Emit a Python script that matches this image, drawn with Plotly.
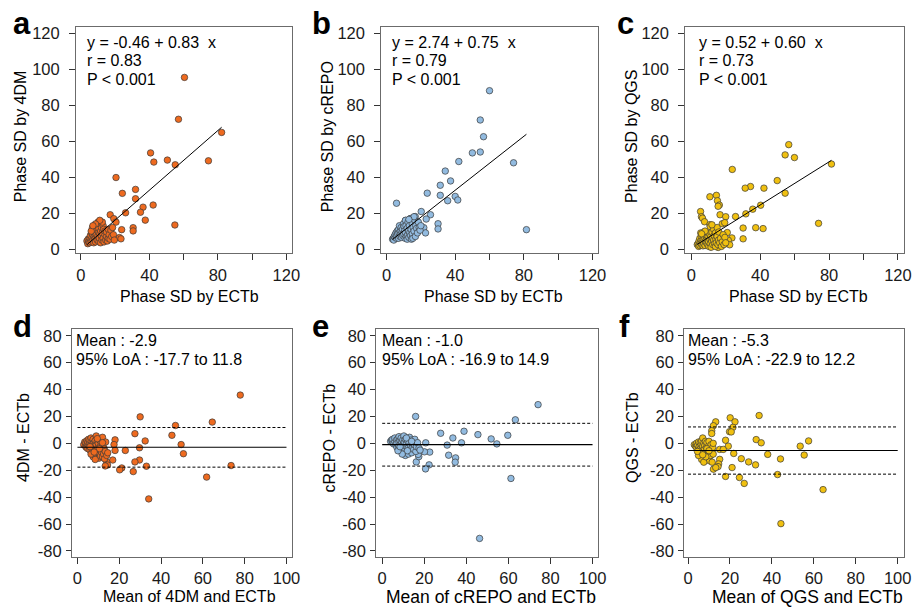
import plotly.graph_objects as go

W, H = 921, 610

# ---------------- data ----------------
# Panel a: ECTb vs 4DM
a_x_out = [60.5, 57, 82.2, 40.7, 42.6, 50.5, 55.1, 74.5, 20.5, 31.9, 24.2, 31.9, 36.3, 42.2, 26.1, 34.8, 37.6,
           17.1, 19.2, 20.5, 54.9, 23.8, 30.5, 30.5, 22.5, 23.4]
a_y_out = [95.5, 72.2, 64.9, 53.5, 48.4, 49.5, 46.9, 49.1, 39.8, 33.2, 31, 28, 23.3, 24.5, 20.2, 20.5, 16.1,
           19.1, 16.9, 15, 13.4, 10.8, 11.9, 10.1, 6.4, 5.7]
a_x_cl = [3.5, 4, 4.2, 4.5, 5, 5, 5.5, 5.8, 6, 6.2, 6.5, 6.8, 7, 7, 7.3, 7.5, 7.8, 8, 8, 8.3, 8.5, 8.8, 9, 9,
          9.3, 9.5, 9.8, 10, 10, 10.2, 10.5, 10.5, 10.8, 11, 11.2, 11.5, 11.5, 12, 12, 12.3, 12.5, 13, 13, 13.3,
          13.5, 14, 14, 14.5, 15, 15, 15.5, 16, 16, 16.5, 17, 17.5, 18, 18.5, 19, 19.5, 12.5, 11, 8.5, 6, 7]
a_y_cl = [4.5, 3, 5.5, 4, 6, 3.5, 7.5, 5, 4, 9, 6.5, 12, 5, 8, 10, 3.5, 7, 11, 5.5, 9, 4, 6.5, 12.5, 8,
          10.5, 5, 7, 15, 13, 9.5, 4, 11.5, 6, 8.5, 14, 3.5, 10, 12, 7, 5, 9, 13, 6, 11,
          4, 8, 10, 5, 7, 9.5, 4.5, 6, 11, 8, 5.5, 10.5, 7, 12, 8, 5, 15, 16, 14, 10, 13]

# Panel b: ECTb vs cREPO
b_x_out = [60, 54.6, 56.5, 50, 54.6, 42.1, 74, 34.2, 37.3, 31.3, 31.3, 23.7, 40, 41.5, 35.6, 5.8, 20.2, 25.6,
           23.1, 30, 30, 81.5, 21.7, 22.7, 13.8, 16.7, 11]
b_y_out = [88.1, 71.8, 62.5, 53.5, 54, 48.7, 48, 43.4, 37.9, 35.5, 29.9, 31.1, 29.3, 27.3, 26.9, 25.5, 20.9, 19.1,
           16.7, 14.1, 11.2, 10.8, 11.9, 9, 16.9, 18.1, 15.9]
b_x_cl = [3.5, 4, 4.2, 4.5, 5, 5, 5.5, 5.8, 6, 6.2, 6.5, 7, 7, 7.3, 7.5, 7.8, 8, 8.3, 8.5, 8.8, 9, 9.3, 9.5, 9.8,
          10, 10.2, 10.5, 10.8, 11, 11, 11.3, 11.5, 12, 12, 12.3, 12.5, 12.8, 13, 13.3, 13.5, 14, 14, 14.3, 14.5,
          15, 15, 15.3, 15.5, 16, 16.5, 16.8, 17, 17.5, 18, 18.5, 19, 19.5, 20, 16, 13]
b_y_cl = [5.5, 6, 5, 7, 6.5, 8, 9, 6, 7.5, 10, 8.5, 6, 11, 9, 13, 7, 10, 8, 12, 6.5, 9.5, 11, 7.5, 14,
          8.5, 12.5, 10, 6, 16, 9, 13, 7, 11.5, 5.5, 8, 15, 10, 6.5, 13, 9, 17, 7.5, 11, 5.5,
          14, 8.5, 6, 12, 10, 16, 7, 13, 11.5, 9, 15, 12, 10.5, 13, 18, 16.5]

# Panel c: ECTb vs QGS
c_x_out = [56.6, 54.5, 59.9, 81.4, 23.8, 49.9, 34.4, 31.3, 42.2, 54.5, 14.6, 10.8, 15.2, 16.3, 15.6, 40.3, 35.7,
           31.7, 16.7, 25.7, 20, 5.4, 5.9, 6.5, 7.7, 73.9, 10.8, 18, 19.4, 30.1, 37.4, 41.7, 30.1, 20.9, 23.6,
           21.5, 22.3, 15.6, 11.1]
c_y_out = [58.1, 52.4, 50.9, 47.3, 44.3, 38.1, 34.8, 33.9, 33.9, 31.1, 29.9, 29.1, 26.9, 24.5, 23.8, 24.4, 22.2,
           19.6, 19.1, 18.1, 18, 20.9, 18, 17.2, 15.2, 14.3, 13.6, 14.1, 14.7, 11.7, 11.9, 11.4, 5.7, 9.2, 6.2,
           4.9, 2.4, 0.9, 1.3]
c_x_cl = [3.5, 4, 4.3, 4.5, 5, 5, 5.3, 5.5, 5.8, 6, 6.2, 6.5, 6.8, 7, 7, 7.3, 7.5, 7.8, 8, 8.2, 8.5, 8.8, 9, 9.2,
          9.5, 9.8, 10, 10.2, 10.5, 10.8, 11, 11, 11.3, 11.5, 11.8, 12, 12.3, 12.5, 13, 13, 13.3, 13.5, 14, 14,
          14.3, 14.5, 15, 15, 15.5, 15.8, 16, 16.5, 17, 17.5, 18, 18.5, 19, 19.5, 20, 12, 8, 6]
c_y_cl = [2.5, 3, 1.5, 4.5, 2, 6, 3.5, 9, 5, 2.5, 7, 4, 1.8, 8, 5.5, 3, 9.5, 6, 2, 4.5, 7.5, 3.5, 9, 5.5,
          2.5, 7, 4, 1.5, 8.5, 5.5, 3, 12.5, 7, 1, 4.5, 9.5, 6, 2.5, 11, 5, 7.5, 3, 9, 1.5,
          5.5, 3.5, 7, 12, 2.5, 5, 9.5, 3.5, 6, 1.5, 4, 8, 2.5, 6.5, 3.5, 13.5, 10, 8.5]

# Panel d: Bland-Altman 4DM - ECTb
d_x_out = [77.9, 30, 64.5, 46.9, 45.2, 27.5, 32.4, 49.6, 29.7, 50.7, 22.9, 18, 17.5, 18, 16.9, 29.7, 27.5, 14,
           14.4, 13.3, 33, 73.5, 21.2, 20.2, 26.7, 61.8, 34.1]
d_y_out = [35.9, 19.7, 15.8, 13.3, 6, 7.2, 1.8, -0.9, -3.3, -7.7, -5.3, 2.6, -0.9, -5.3, -12.4, -12.4, -13.8, -13.8,
           -16.1, -16.8, -17, -16.5, -18.3, -19.7, -21, -25.1, -41.3]
d_x_cl = [3, 3.5, 3.8, 4, 4.2, 4.5, 4.8, 5, 5, 5.3, 5.5, 5.8, 6, 6, 6.3, 6.5, 6.8, 7, 7, 7.3, 7.5, 7.8, 8, 8,
          8.3, 8.5, 8.8, 9, 9, 9.3, 9.5, 9.8, 10, 10, 10.3, 10.5, 10.8, 11, 11, 11.3, 11.5, 11.8, 12, 12, 12.3,
          12.5, 12.8, 13, 13.3, 13.5, 14, 14.5, 7.5, 8.5, 6.5, 9.5, 10.5, 12, 8, 6]
d_y_cl = [-1, 1, -2, 0.5, -3, 2, -1, 1, -4, 3, -2, 0, -5, 2.5, -1.5, 4, -3, 1, -6, -0.5, 3, -4, -8, 0.5,
          -2, 2, -5.5, 5.5, -1, -9, 1.5, -3.5, -7, 0, -11, 2.5, -5, -2, -9.5, 1, -6.5, -3, 4.5, -10, -1,
          -8, -4, -11.5, -6, 1, -9, -7, -10, -12, -8, 3.5, -4, 0.5, -6.5, -2.5]
d_stats = [-2.9, -17.7, 11.8]   # mean, lower LoA, upper LoA

# Panel e: Bland-Altman cREPO - ECTb
e_x_out = [74.1, 15.9, 63.3, 27.8, 38.9, 45.5, 59.7, 51.8, 33.6, 37.7, 54.5, 30.9, 31.6, 34.9, 34.7, 16.2, 22.3,
           20.6, 61.2, 46.3, 20.7, 22.6, 20.1, 17.4, 17.1]
e_y_out = [28.8, 20, 17.5, 7.5, 9, 6.5, 6, 3.3, 4, 0.4, -0.4, -1.3, -8.8, -10.8, -14, -13.8, -16,
           -19, -26.1, -70.7, 0.4, -6.5, -6.3, -9.9, -8.2]
e_x_cl = [4, 4.5, 5, 5, 5.5, 6, 6, 6.5, 6.8, 7, 7, 7.5, 7.8, 8, 8, 8.3, 8.5, 8.8, 9, 9, 9.3, 9.5, 9.8, 10,
          10, 10.3, 10.5, 10.8, 11, 11, 11.3, 11.5, 11.8, 12, 12.3, 12.5, 12.8, 13, 13, 13.5, 13.8, 14,
          14.3, 14.5, 15, 15.3, 15.5, 16, 16.3, 16.8, 17.5, 18, 12, 9.5, 7.5, 11.5, 14, 8.5]
e_y_cl = [1.5, 2.5, 0.5, 3, -0.5, 1.5, 4, -1, 2.5, 0, -3, 3.5, -2, 1, 5, -4, 2, -1, 4, -6, 0.5, -3, 2.5, -7.5,
          -1, 5.5, 1, -4.5, 3, -9, -2, 0, -6, 2, -3.5, -8, 0.5, 4.5, -5, -1.5, 2.5, -7,
          -3, 0, -4.5, -1, 3, -6, -2.5, 0.5, -3.5, -5, -5.5, -8, -5.5, 4, 1.5, -2.5]
e_stats = [-1.0, -16.9, 14.9]

# Panel f: Bland-Altman QGS - ECTb
f_x_out = [33.9, 20.1, 22.4, 13.2, 12.1, 21.4, 11.3, 19.8, 11.3, 20.6, 32.5, 34.9, 17.9, 57.5, 53.5, 19.2, 55.4,
           38, 21.8, 15.1, 16.8, 44.1, 25.4, 15.1, 28.9, 32.2, 14.6, 14.3, 21, 12.1, 17.9, 24.5, 42.7, 26.8,
           64.4, 44.3, 13.2]
f_y_out = [20.7, 19, 16, 16, 13.1, 11.9, 9.4, 8.7, 7.3, 8.5, 2.8, 0.4, 2.3, 1.8, -2.1, -2.1, -8.7,
           -8.2, -7.5, -4.5, -4.5, -11.6, -11.4, -11.9, -13.8, -16, -15.3, -17.3, -18, -19.2, -24.6, -25.4, -23.2,
           -29.8, -34.4, -59.7, -18]
f_x_cl = [3, 3.5, 4, 4, 4.5, 5, 5, 5.3, 5.5, 5.8, 6, 6, 6.3, 6.5, 6.5, 6.8, 7, 7, 7.3, 7.5, 7.8, 8, 8, 8.3,
          8.5, 8.8, 9, 9, 9.3, 9.5, 9.8, 10, 10, 10.3, 10.5, 10.8, 11, 11.3, 11.5, 11.8, 12, 12,
          6.5, 7.5, 8.5, 5, 4.5, 9, 7, 10]
f_y_cl = [-1, -2, -3, 0, -1.5, -4, 1, -2.5, -6, 0.5, -3.5, -8, -1, -5, 2, -10, -2, 4, -6.5, 0, -4, -12, -1.5, 1.5,
          -7, -3, -9.5, 0.5, -5, -11.5, -2, -7, 1.5, -13, -4, -9, -1, -6, -14, -3, -8, 0,
          -12, -14, -10, -9, -6, -4, -8.5, -5.5]
f_stats = [-5.3, -22.9, 12.2]

# regression coefficients (intercept, slope)
reg_a = [-0.46, 0.83]
reg_b = [2.74, 0.75]
reg_c = [0.52, 0.60]

top_xticks = [0, 20, 40, 60, 80, 100, 120]
top_xlabels = ['0', '', '40', '', '80', '', '120']
top_yticks = [0, 20, 40, 60, 80, 100, 120]
bot_xticks = [0, 20, 40, 60, 80, 100]
bot_yticks = [-80, -60, -40, -20, 0, 20, 40, 60, 80]

# ---------------- styling / layout ----------------
FONT = "Liberation Sans, Arial, Helvetica, sans-serif"
ORANGE = '#EE6A1F'
BLUE = '#92BBE0'
YELLOW = '#F0C010'


def px(x):
    return x / W


def py(y):
    return 1 - y / H


fig = go.Figure()

top_y_dom = [py(253.3), py(24.7)]
bot_y_dom = [py(560), py(329.3)]

panels = [
    dict(xd=[75.7, 294], yd=top_y_dom, xr=[-2.9, 123.4], yr=[-2.4, 123.3],
         xt=top_xticks, xl=top_xlabels, yt=top_yticks, ylen=6, ystand=6),
    dict(xd=[384, 602.7], yd=top_y_dom, xr=[-3.1, 123.1], yr=[-2.4, 123.3],
         xt=top_xticks, xl=top_xlabels, yt=top_yticks, ylen=6, ystand=6),
    dict(xd=[691, 911.7], yd=top_y_dom, xr=[-3.5, 123.4], yr=[-2.4, 123.3],
         xt=top_xticks, xl=top_xlabels, yt=top_yticks, ylen=6, ystand=6),
    dict(xd=[71.7, 294], yd=bot_y_dom, xr=[-2.6, 102.7], yr=[-84.2, 85.4],
         xt=bot_xticks, xl=[str(v) for v in bot_xticks], yt=bot_yticks, ylen=5, ystand=1),
    dict(xd=[379, 602.7], yd=bot_y_dom, xr=[-2.8, 102.5], yr=[-84.2, 85.4],
         xt=bot_xticks, xl=[str(v) for v in bot_xticks], yt=bot_yticks, ylen=5, ystand=1),
    dict(xd=[690, 911.7], yd=bot_y_dom, xr=[-1.8, 102.9], yr=[-84.2, 85.4],
         xt=bot_xticks, xl=[str(v) for v in bot_xticks], yt=bot_yticks, ylen=5, ystand=1),
]

layout_axes = {}
for i, p in enumerate(panels):
    n = '' if i == 0 else str(i + 1)
    common = dict(showline=True, mirror=True, linecolor='#6b6b6b', linewidth=1, ticks='outside',
                  tickcolor='#333333', tickwidth=1, showgrid=False, zeroline=False, fixedrange=True,
                  tickfont=dict(family=FONT, size=16.5, color='#1a1a1a'), tickmode='array')
    layout_axes['xaxis' + n] = dict(common, domain=[px(p['xd'][0]), px(p['xd'][1])], range=p['xr'],
                                    tickvals=p['xt'], ticktext=p['xl'], anchor='y' + n, ticklen=6,
                                    ticklabelstandoff=1)
    layout_axes['yaxis' + n] = dict(common, domain=p['yd'], range=p['yr'],
                                    tickvals=p['yt'], ticktext=[str(v) for v in p['yt']], anchor='x' + n,
                                    ticklen=p['ylen'], ticklabelstandoff=p['ystand'])

scatter_sets = [
    (a_x_out + a_x_cl, a_y_out + a_y_cl, ORANGE),
    (b_x_out + b_x_cl, b_y_out + b_y_cl, BLUE),
    (c_x_out + c_x_cl, c_y_out + c_y_cl, YELLOW),
    (d_x_out + d_x_cl, d_y_out + d_y_cl, ORANGE),
    (e_x_out + e_x_cl, e_y_out + e_y_cl, BLUE),
    (f_x_out + f_x_cl, f_y_out + f_y_cl, YELLOW),
]

for i, (xs, ys, col) in enumerate(scatter_sets):
    n = '' if i == 0 else str(i + 1)
    fig.add_trace(go.Scatter(x=xs, y=ys, mode='markers', xaxis='x' + n, yaxis='y' + n,
                             marker=dict(size=6.5, color=col, line=dict(color='#3a3a3a', width=0.7)),
                             showlegend=False, hoverinfo='skip'))

# regression lines over the range of ECTb
for i, (reg, (xs, ys, col)) in enumerate(zip([reg_a, reg_b, reg_c], scatter_sets[:3])):
    n = '' if i == 0 else str(i + 1)
    x0, x1 = min(xs), max(xs)
    fig.add_trace(go.Scatter(x=[x0, x1], y=[reg[0] + reg[1] * x0, reg[0] + reg[1] * x1], mode='lines',
                             xaxis='x' + n, yaxis='y' + n, line=dict(color='black', width=1),
                             showlegend=False, hoverinfo='skip'))

# Bland-Altman mean and limits of agreement
for i, st in enumerate([d_stats, e_stats, f_stats]):
    n = str(i + 4)
    fig.add_trace(go.Scatter(x=[0, 100], y=[st[0], st[0]], mode='lines', xaxis='x' + n, yaxis='y' + n,
                             line=dict(color='black', width=1.2), showlegend=False, hoverinfo='skip'))
    for v in st[1:]:
        fig.add_trace(go.Scatter(x=[0, 100], y=[v, v], mode='lines', xaxis='x' + n, yaxis='y' + n,
                                 line=dict(color='black', width=1, dash='3px,2px'),
                                 showlegend=False, hoverinfo='skip'))

ann = []


def text(x, y, s, size=16, bold=False, angle=0, xanchor='left', yanchor='middle'):
    ann.append(dict(x=px(x), y=py(y), xref='paper', yref='paper', text=('<b>%s</b>' % s) if bold else s,
                    showarrow=False, xanchor=xanchor, yanchor=yanchor, textangle=angle,
                    font=dict(family=FONT, size=size, color='black')))


# panel letters
for lx, ly, l in [(10, 21, 'a'), (312, 21, 'b'), (620, 21, 'c'),
                  (10, 327, 'd'), (312, 327, 'e'), (622, 327, 'f')]:
    text(lx, ly, l, size=31, bold=True)

# regression annotations
for x0, reg, r in [(85, reg_a, '0.83'), (393.3, reg_b, '0.79'), (703.3, reg_c, '0.73')]:
    sign = '-' if reg[0] < 0 else ''
    text(x0, 40, 'y = %s%.2f + %.2f\u00a0 x' % (sign, abs(reg[0]), reg[1]))
    text(x0, 58.5, 'r = ' + r)
    text(x0, 77.5, 'P < 0.001')

# Bland-Altman annotations
for x0, st in [(74, d_stats), (382.7, e_stats), (691.7, f_stats)]:
    text(x0, 341.7, 'Mean : %.1f' % st[0])
    text(x0, 360.5, '95%% LoA : %.1f to %.1f' % (st[1], st[2]))

# axis titles
for cx in [190, 497, 805]:
    text(cx, 296.7, 'Phase SD by ECTb', xanchor='center')
text(20, 135, 'Phase SD by 4DM', angle=-90, xanchor='center')
text(330, 135, 'Phase SD by cREPO', angle=-90, xanchor='center')
text(636.7, 135, 'Phase SD by QGS', angle=-90, xanchor='center')
text(190, 600, 'Mean of 4DM and ECTb', xanchor='center')
text(495, 600.5, 'Mean of cREPO and ECTb', size=17.5, xanchor='center')
text(814, 600.5, 'Mean of QGS and ECTb', size=17.5, xanchor='center')
text(23.3, 440, '4DM - ECTb', angle=-90, xanchor='center')
text(331.7, 440, 'cREPO - ECTb', angle=-90, xanchor='center')
text(638.3, 440, 'QGS - ECTb', angle=-90, xanchor='center')

fig.update_layout(width=W, height=H, margin=dict(l=0, r=0, t=0, b=0), paper_bgcolor='white',
                  plot_bgcolor='white', annotations=ann, showlegend=False, **layout_axes)

fig.write_html("out.html", config={'displayModeBar': False},
               post_script="document.body.style.margin='0';document.body.style.overflow='hidden';"
                           "document.documentElement.style.overflow='hidden';")
